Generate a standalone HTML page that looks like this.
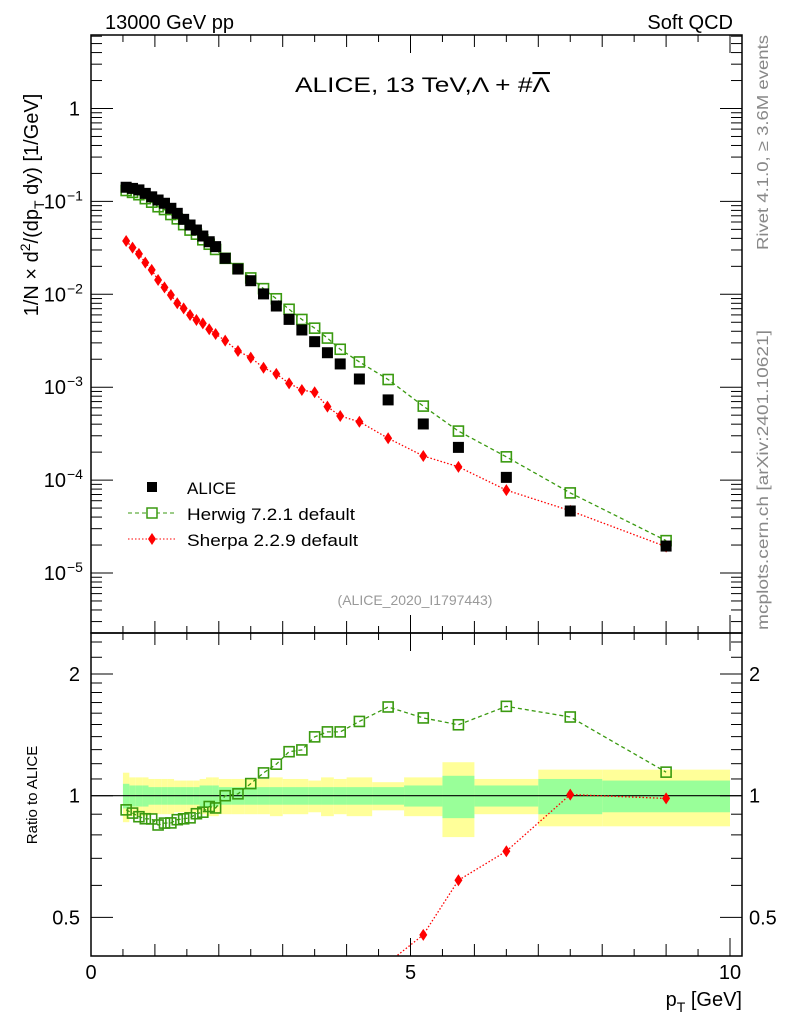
<!DOCTYPE html>
<html><head><meta charset="utf-8">
<style>
html,body{margin:0;padding:0;background:#fff;overflow:hidden;width:786px;height:1024px;}
svg{display:block;font-family:"Liberation Sans",Arial,sans-serif;}
</style></head>
<body>
<svg id="c" width="786" height="1024" viewBox="0 0 786 1024">
<text x="105" y="29" font-size="20">13000 GeV pp</text>
<text x="733" y="29" font-size="20" text-anchor="end">Soft QCD</text>
<text x="295" y="92" font-size="21" textLength="255" lengthAdjust="spacingAndGlyphs">ALICE, 13 TeV,Λ + #<tspan text-decoration="overline">Λ</tspan></text>
<text transform="translate(38,205) rotate(-90)" font-size="20" text-anchor="middle">1/N × d<tspan dy="-8" font-size="14">2</tspan><tspan dy="8">/(dp</tspan><tspan dy="6" font-size="14">T</tspan><tspan dy="-6"> dy) [1/GeV]</tspan></text>
<text transform="translate(768,250) rotate(-90)" font-size="16" fill="#888" textLength="215" lengthAdjust="spacingAndGlyphs">Rivet 4.1.0, ≥ 3.6M events</text>
<text transform="translate(768,630) rotate(-90)" font-size="16" fill="#888" textLength="300" lengthAdjust="spacingAndGlyphs">mcplots.cern.ch [arXiv:2401.10621]</text>
<text x="415" y="605" font-size="14" fill="#999" text-anchor="middle">(ALICE_2020_I1797443)</text>
<text transform="translate(37,795) rotate(-90)" font-size="15" text-anchor="middle">Ratio to ALICE</text>
<text x="742" y="1006" font-size="20" text-anchor="end">p<tspan dy="6" font-size="14">T</tspan><tspan dy="-6"> [GeV]</tspan></text>
<g>
<rect x="147" y="482" width="10" height="10" fill="#000"/>
<text x="187" y="494" font-size="17">ALICE</text>
<line x1="128" y1="513" x2="176" y2="513" stroke="#3a9a10" stroke-dasharray="4,3"/>
<rect x="147" y="508" width="10" height="10" fill="#fff" stroke="#3a9a10" stroke-width="1.5"/>
<text x="187" y="520" font-size="17" textLength="168" lengthAdjust="spacingAndGlyphs">Herwig 7.2.1 default</text>
<line x1="128" y1="539" x2="176" y2="539" stroke="#f00" stroke-dasharray="1.5,2"/>
<path d="M152,533 L156,539 L152,545 L148,539 Z" fill="#f00"/>
<text x="187" y="546" font-size="17" textLength="171" lengthAdjust="spacingAndGlyphs">Sherpa 2.2.9 default</text>
</g>
</svg>
<script>
const edges=[0.5,0.6,0.7,0.8,0.9,1.0,1.1,1.2,1.3,1.4,1.5,1.6,1.7,1.8,1.9,2.0,2.2,2.4,2.6,2.8,3.0,3.2,3.4,3.6,3.8,4.0,4.4,4.9,5.5,6.0,7.0,8.0,10.0];
const alice=[0.142,0.138,0.133,0.122,0.112,0.1035,0.0955,0.0843,0.0744,0.0641,0.0557,0.0492,0.0424,0.0368,0.0326,0.0244,0.0187,0.0140,0.0101,0.00748,0.00537,0.00413,0.00309,0.00235,0.00178,0.001225,0.00073,0.000402,0.000225,0.000107,4.65e-5,1.95e-5];
const herwig=[0.131,0.125,0.118,0.107,0.0981,0.0876,0.0817,0.0722,0.0649,0.0562,0.0491,0.0444,0.0386,0.0346,0.0304,0.0244,0.0189,0.0150,0.0115,0.00895,0.00690,0.00536,0.00432,0.00338,0.00256,0.00187,0.00121,0.000626,0.000337,0.000178,7.28e-5,2.23e-5];
const sherpa=[0.0375,0.0318,0.0272,0.0219,0.0183,0.01426,0.01189,0.00982,0.0080,0.00706,0.00598,0.00529,0.00487,0.0042,0.00374,0.00317,0.00245,0.00208,0.00162,0.00139,0.0011,0.000933,0.000881,0.000617,0.00049,0.000425,0.000282,0.000182,0.000139,7.8e-5,4.68e-5,1.92e-5];
const statErr=[0.07,0.06,0.06,0.06,0.05,0.05,0.05,0.05,0.05,0.05,0.05,0.05,0.06,0.06,0.06,0.05,0.05,0.05,0.05,0.05,0.05,0.05,0.05,0.05,0.05,0.05,0.05,0.06,0.12,0.06,0.10,0.09];
const totErr=[0.14,0.11,0.11,0.11,0.10,0.10,0.10,0.10,0.09,0.09,0.09,0.09,0.10,0.11,0.11,0.10,0.10,0.10,0.10,0.11,0.10,0.10,0.09,0.11,0.10,0.11,0.08,0.11,0.21,0.10,0.16,0.16];
const ratioTicks=[0.5,1,2];
const ratioLabels=["0.5","1","2"];
const xTicks=[0,5,10];

const NS="http://www.w3.org/2000/svg";
const svg=document.getElementById('c');
const L=91,R=742,T=35,MID=633,B=956;
const X=v=>91+63.9*v;
const Y=v=>108.5-92.9*Math.log10(v);
const RY=v=>795.7-121.7*Math.log2(v);
function mk(tag,attrs,parent){const e=document.createElementNS(NS,tag);for(const k in attrs)e.setAttribute(k,attrs[k]);(parent||svg).appendChild(e);return e;}
const centers=edges.slice(0,-1).map((e,i)=>(e+edges[i+1])/2);

const bands=mk('g',{});


centers.forEach((c,i)=>{
 const x1=X(edges[i]),x2=X(edges[i+1]);
 const y=mk('rect',{x:x1,y:RY(1+totErr[i]),width:x2-x1,height:RY(1-totErr[i])-RY(1+totErr[i]),fill:'#ffff99'},bands);
 
 
});
centers.forEach((c,i)=>{
 const x1=X(edges[i]),x2=X(edges[i+1]);
 const g=mk('rect',{x:x1,y:RY(1+statErr[i]),width:x2-x1,height:RY(1-statErr[i])-RY(1+statErr[i]),fill:'#99ff99'},bands);
 
 
});
const one=mk('line',{x1:L,x2:R,y1:RY(1),y2:RY(1),stroke:'#000','stroke-width':1.2});



const defs=mk('defs',{});
const cp1=mk('clipPath',{id:'cu'},defs);mk('rect',{x:L,y:T,width:R-L,height:MID-T},cp1);
const cp2=mk('clipPath',{id:'cl'},defs);mk('rect',{x:L,y:MID,width:R-L,height:B-MID},cp2);

function series(vals,fn,color,dash,marker,name,clip){
 const g=mk('g',{'clip-path':'url(#'+clip+')'});
 
 
 if(dash){
  const p=mk('polyline',{points:centers.map((c,i)=>X(c)+','+fn(vals[i])).join(' '),fill:'none',stroke:color,'stroke-width':1.3,'stroke-dasharray':dash},g);
  
  
 }
 centers.forEach((c,i)=>{
  const x=X(c),y=fn(vals[i]);let m;
  if(marker==='fsq')m=mk('rect',{x:x-5.5,y:y-5.5,width:11,height:11,fill:'#000'},g);
  else if(marker==='osq')m=mk('rect',{x:x-5,y:y-5,width:10,height:10,fill:'none',stroke:color,'stroke-width':1.6},g);
  else m=mk('path',{d:`M${x},${y-6}L${x+4},${y}L${x},${y+6}L${x-4},${y}Z`,fill:color},g);
  
  
 });
}
series(herwig,Y,'#3a9a10','4,3','osq','herwig-series','cu');
series(sherpa,Y,'#f00','1.5,2','dia','sherpa-series','cu');
series(alice,Y,'#000',null,'fsq','alice-series','cu');
series(herwig.map((v,i)=>v/alice[i]),RY,'#3a9a10','4,3','osq','herwig-ratio','cl');
series(sherpa.map((v,i)=>v/alice[i]),RY,'#f00','1.5,2','dia','sherpa-ratio','cl');

const f1=mk('rect',{x:L,y:T,width:R-L,height:MID-T,fill:'none',stroke:'#000','stroke-width':1.5});


const f2=mk('rect',{x:L,y:MID,width:R-L,height:B-MID,fill:'none',stroke:'#000','stroke-width':1.5});



const axg=mk('g',{stroke:'#000','stroke-width':1});


for(let k=0;k<=20;k++){
 const v=k*0.5,x=X(v),len=(k%10===0)?18:(k%2===0?12:7);
 [[T,1],[MID,-1],[MID,1],[B,-1]].forEach(([y0,d])=>mk('line',{x1:x,x2:x,y1:y0,y2:y0+d*len},axg));
}
for(let e=-6;e<=0;e++)for(let m=1;m<=9;m++){
 const v=m*Math.pow(10,e),y=Y(v);if(y<T||y>MID)continue;
 const len=m===1?22:11;
 mk('line',{x1:L,x2:L+len,y1:y,y2:y},axg);mk('line',{x1:R,x2:R-len,y1:y,y2:y},axg);
}
[0.6,0.7,0.8,0.9,1.1,1.2,1.3,1.4,1.5,1.6,1.7,1.8,1.9,2.2,2.4].forEach(v=>{const y=RY(v);mk('line',{x1:L,x2:L+11,y1:y,y2:y},axg);mk('line',{x1:R,x2:R-11,y1:y,y2:y},axg);});
ratioTicks.forEach((v,i)=>{const y=RY(v);mk('line',{x1:L,x2:L+22,y1:y,y2:y},axg);mk('line',{x1:R,x2:R-22,y1:y,y2:y},axg);
 const t1=mk('text',{x:80,y:y+7,'font-size':20,'text-anchor':'end',stroke:'none'});t1.textContent=ratioLabels[i];
 
 
 const t2=mk('text',{x:749,y:y+7,'font-size':20,stroke:'none'});t2.textContent=ratioLabels[i];
 
 
});
xTicks.forEach(v=>{const t=mk('text',{x:X(v),y:979,'font-size':20,'text-anchor':'middle'});t.textContent=String(v);
 
 });
for(let e=-5;e<=0;e++){
 const y=Y(Math.pow(10,e));
 const t=mk('text',{x:e===0?80:66,y:y+7,'font-size':20,'text-anchor':'end'});
 t.textContent='10';
 if(e===0)t.textContent='1';
 else{const s=mk('tspan',{x:67,dy:-8,'font-size':14,'text-anchor':'start'},t);s.textContent='−'+(-e);}
 
 
}
</script>
</body></html>
